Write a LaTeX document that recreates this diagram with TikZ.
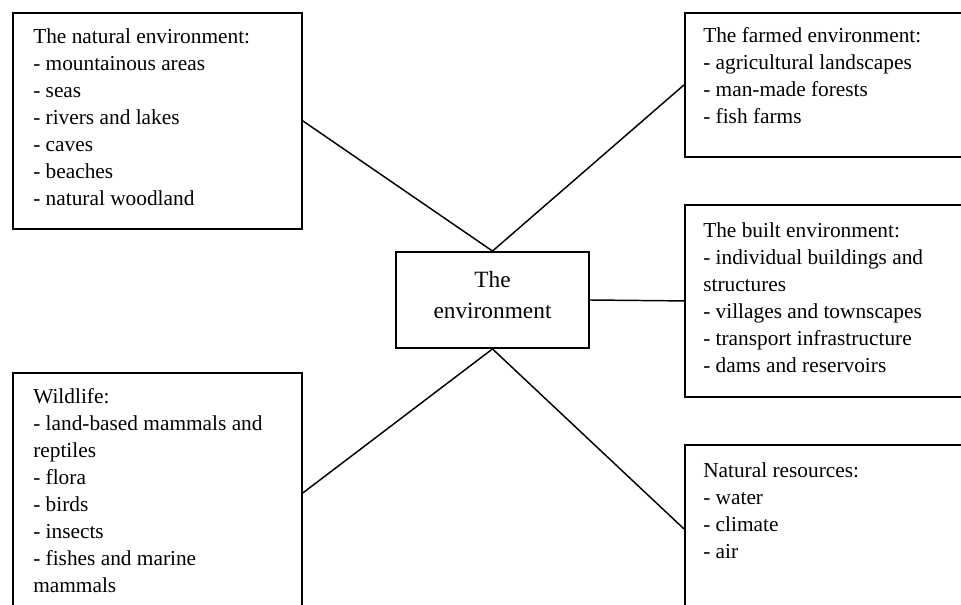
\documentclass[tikz,border=0pt]{standalone}
\usepackage{fontspec}
\setmainfont{Liberation Serif}
\begin{document}
\begin{tikzpicture}[x=0.75pt,y=-0.75pt,
  box/.style={draw, line width=1.4pt, inner sep=0pt, anchor=north west},
  body/.style={anchor=north west, inner sep=0pt, align=left,
    font=\fontsize{16}{20.25}\selectfont},
  link/.style={line width=1.1pt}]
\useasboundingbox (0,0) rectangle (961,605);
\clip (0,0) rectangle (961,605);

% outer boxes
\node[box, minimum width=216.75pt, minimum height=162pt] (nat) at (12,12) {};
\node[box, minimum width=237pt, minimum height=108pt] (farm) at (684,12) {};
\node[box, minimum width=237pt, minimum height=144pt] (built) at (684,204) {};
\node[box, minimum width=216.75pt, minimum height=180pt] (wild) at (12,372) {};
\node[box, minimum width=237pt, minimum height=126pt] (res) at (684,444) {};

% central box
\node[draw, line width=1.4pt, inner sep=0pt, minimum width=144.75pt,
  minimum height=72pt] (ctr) at (492.5,300) {};
\node[align=center, inner sep=0pt, font=\fontsize{17.5}{23}\selectfont]
  (ctrlabel) at (492.5,295) {The\\environment};

% box texts
\node[body] (nattext) at (33,28) {The natural environment:\\- mountainous areas\\- seas\\- rivers and lakes\\- caves\\- beaches\\- natural woodland};
\node[body] (farmtext) at (703,27) {The farmed environment:\\- agricultural landscapes\\- man-made forests\\- fish farms};
\node[body] (builttext) at (703,222) {The built environment:\\- individual buildings and\\structures\\- villages and townscapes\\- transport infrastructure\\- dams and reservoirs};
\node[body] (wildtext) at (33,388) {Wildlife:\\- land-based mammals and\\reptiles\\- flora\\- birds\\- insects\\- fishes and marine\\mammals};
\node[body] (restext) at (703,462) {Natural resources:\\- water\\- climate\\- air};

% connectors
\draw[link] (nat.east) -- (ctr.north);
\draw[link] (ctr.north) -- (farm.west);
\draw[link] (ctr.east) -- (built.west);
\draw[link] (wild.east) -- (ctr.south);
\draw[link] (ctr.south) -- (res.west);
\end{tikzpicture}
\end{document}
